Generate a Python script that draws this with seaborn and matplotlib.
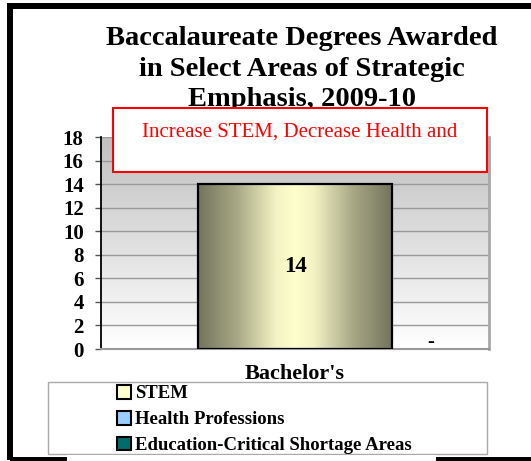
import numpy as np
import matplotlib.pyplot as plt
import seaborn as sns
from matplotlib.patches import Rectangle, Patch
from matplotlib.colors import LinearSegmentedColormap

# chart data
categories = ["Bachelor's"]
stem_values = [14]
series_names = ["STEM", "Health Professions", "Education-Critical Shortage Areas"]
series_colors = ["#ffffcc", "#99ccff", "#006b6b"]
other_label = "-"
y_ticks = list(range(0, 20, 2))

title_text = "Baccalaureate Degrees Awarded\nin Select Areas of Strategic\nEmphasis, 2009-10"
note_text = "Increase STEM, Decrease Health and"

sns.set_style("white")
plt.rcParams['font.family'] = ['Liberation Serif', 'DejaVu Serif']
plt.rcParams['text.color'] = 'black'
plt.rcParams['xtick.labelcolor'] = 'black'
plt.rcParams['ytick.labelcolor'] = 'black'

W, H = 531, 461
fig = plt.figure(figsize=(W / 100, H / 100), dpi=100)


def fx(px):
    return px / W


def fy(py):
    return 1 - py / H


ax = fig.add_axes([fx(101), fy(349), fx(489) - fx(101), fy(137) - fy(349)])

# bar
sns.barplot(x=categories, y=stem_values, width=0.5, color=series_colors[0],
            saturation=1, edgecolor='black', linewidth=1.6, ax=ax, zorder=3)
bar = ax.patches[0]
bar.set_facecolor('none')

# horizontal gradient inside the bar
bar_cmap = LinearSegmentedColormap.from_list('bar', [
    (0.0, '#74745c'), (0.2, '#a8a886'), (0.4, '#f2f2c4'), (0.5, '#ffffcc'),
    (0.6, '#f2f2c4'), (0.8, '#a8a886'), (1.0, '#74745c')])
bx, bw = bar.get_x(), bar.get_width()
grad = ax.imshow(np.linspace(0, 1, 256).reshape(1, -1), cmap=bar_cmap, aspect='auto',
                 extent=(bx, bx + bw, 0, bar.get_height()), zorder=2.5)
grad.set_clip_path(bar)

# vertical gray gradient background
bg_cmap = LinearSegmentedColormap.from_list('bg', ['#ffffff', '#c0c0c0'])
ax.imshow(np.linspace(1, 0, 256).reshape(-1, 1), cmap=bg_cmap, aspect='auto',
          extent=(-0.5, 0.5, 0, 18), zorder=0)

ax.set_xlim(-0.5, 0.5)
ax.set_ylim(0, 18)
ax.set_yticks(y_ticks)
ax.set_axisbelow(True)
ax.yaxis.grid(True, color='#999999', lw=1)
ax.xaxis.grid(False)

ax.spines['top'].set_visible(False)
ax.spines['left'].set_color('black')
ax.spines['left'].set_linewidth(1.3)
ax.spines['bottom'].set_color('#999999')
ax.spines['bottom'].set_linewidth(1.5)
ax.spines['right'].set_color('#a8a8a8')
ax.spines['right'].set_linewidth(2)

ax.tick_params(axis='y', direction='out', length=4.5, width=1, color='#555555',
               pad=8, labelsize=15, left=True, labelcolor='black')
ax.tick_params(axis='x', length=0, pad=11, labelsize=16, labelcolor='black')
plt.setp(ax.get_yticklabels(), fontweight='bold')
plt.setp(ax.get_xticklabels(), fontweight='bold')
ax.set_xlabel('')
ax.set_ylabel('')

# data labels
ax.bar_label(ax.containers[0], label_type='center', fontsize=16.5,
             fontweight='bold', color='black')
ax.text(0.35, 0.15, other_label, ha='center', va='baseline', fontsize=15,
        fontweight='bold', color='black')

# title
fig.text(fx(302), fy(26), title_text, ha='center', va='top', fontsize=20.5,
         fontweight='bold', linespacing=1.3, color='black', zorder=3)

# red note box
fig.add_artist(Rectangle((fx(113), fy(172)), fx(487) - fx(113), fy(108) - fy(172),
                         transform=fig.transFigure, facecolor='white',
                         edgecolor='red', lw=1.5, zorder=5))
fig.text(fx(300), fy(137), note_text, ha='center', va='baseline', fontsize=15,
         color='red', zorder=6)

# legend
fig.add_artist(Rectangle((fx(48), fy(454)), fx(487) - fx(48), fy(382) - fy(454),
                         transform=fig.transFigure, facecolor='white',
                         edgecolor='#aaaaaa', lw=1, zorder=4))
handles = [Patch(facecolor=c, edgecolor='black', lw=1.5) for c in series_colors]
leg = fig.legend(handles, series_names, loc='upper left',
                 bbox_to_anchor=(fx(117), fy(385)), frameon=False,
                 prop={'weight': 'bold', 'size': 13.5}, handlelength=0.75,
                 handleheight=0.75, handletextpad=0.2, labelspacing=0.45,
                 borderpad=0, borderaxespad=0)
leg.set_zorder(6)
for t in leg.get_texts():
    t.set_color('black')

# outer black frame
fig.add_artist(Rectangle((fx(10), fy(460)), fx(560) - fx(10), fy(6) - fy(460),
                         transform=fig.transFigure, facecolor='none',
                         edgecolor='black', lw=4.3, zorder=10))
fig.add_artist(Rectangle((fx(67), fy(461)), fx(436) - fx(67), fy(455) - fy(461),
                         transform=fig.transFigure, facecolor='white',
                         edgecolor='none', zorder=11))

fig.savefig('out.png', dpi=100)
